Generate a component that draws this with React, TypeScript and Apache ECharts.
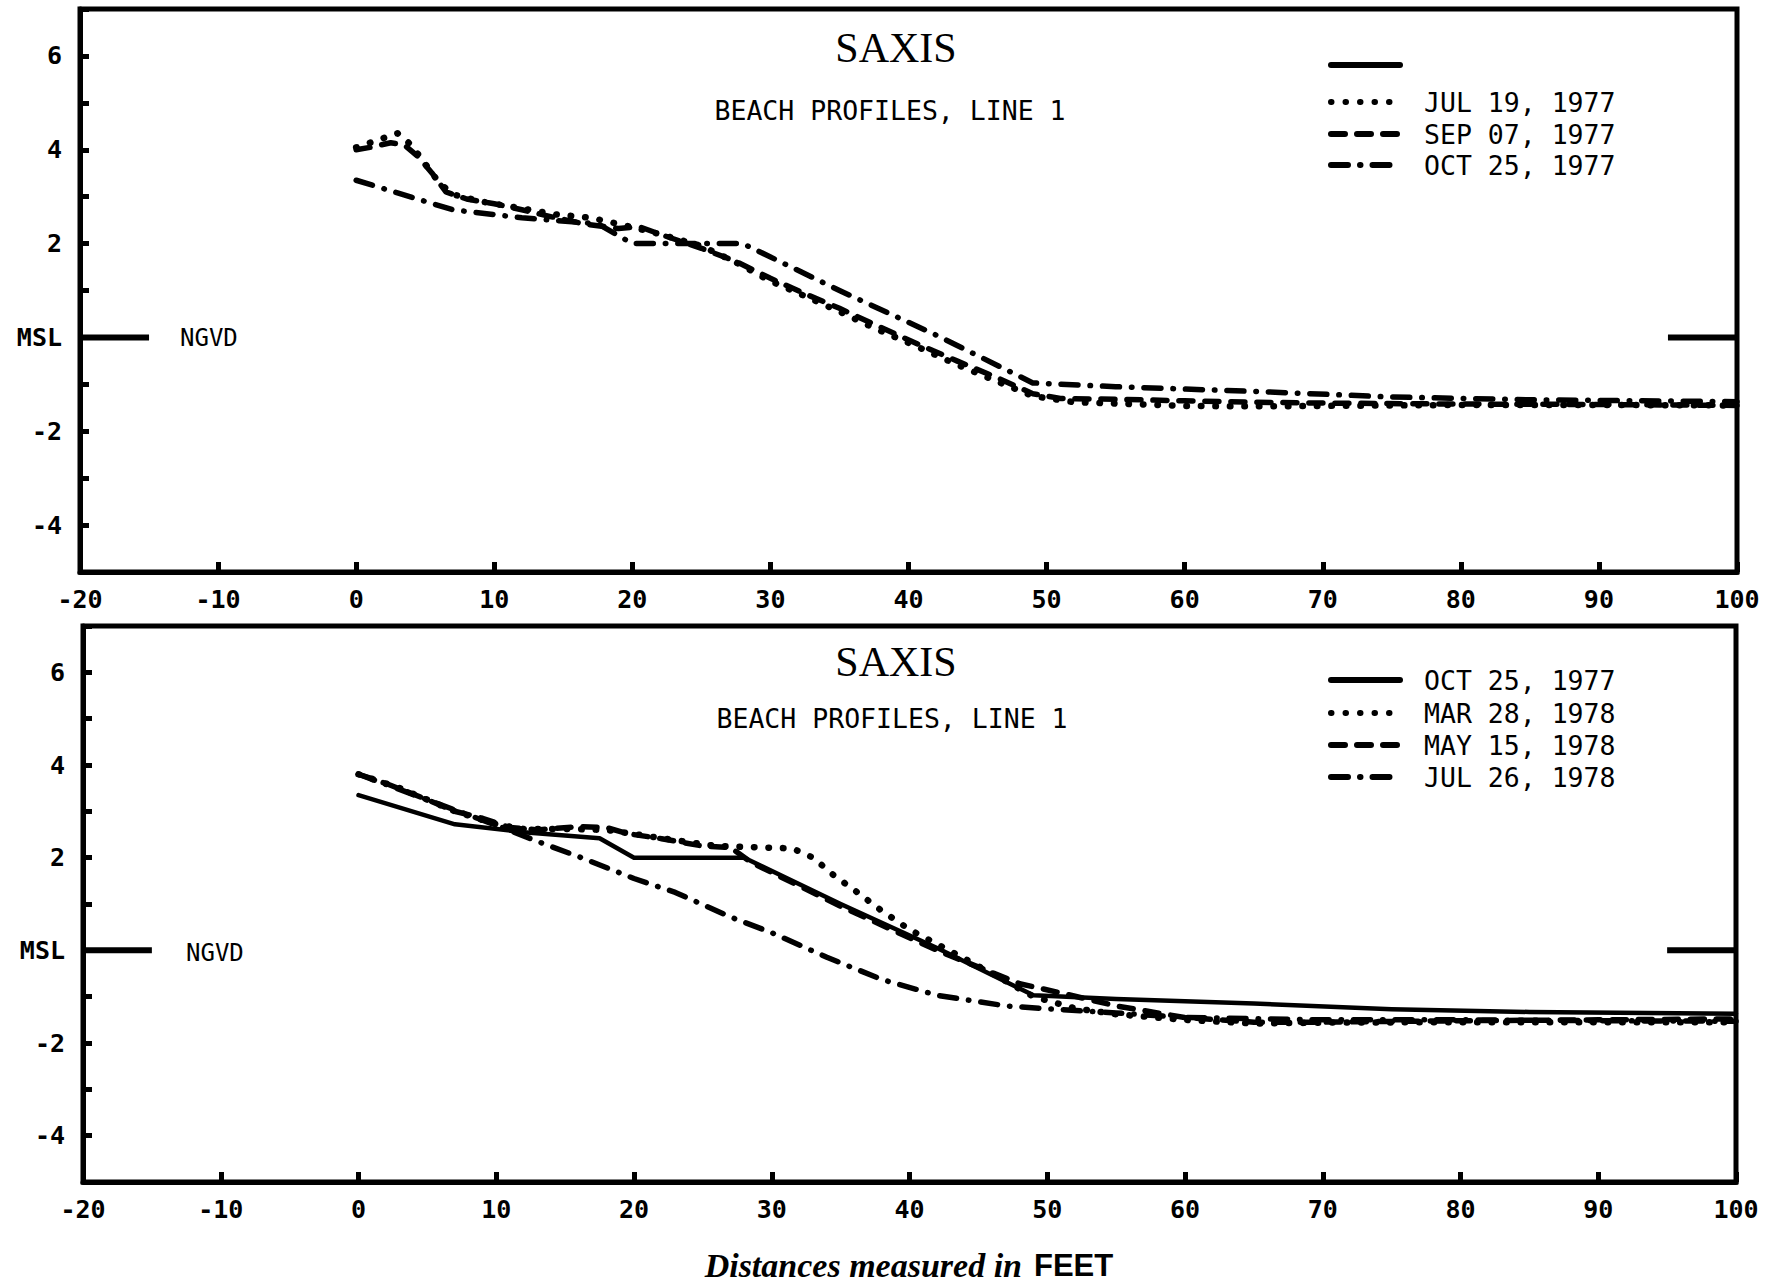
import React, { useEffect, useRef } from "react";
import * as echarts from "echarts";

// ---- Data (distance in feet, elevation in feet relative to MSL/NGVD) ----
const X_MIN = -20;
const X_MAX = 100;
const Y_MIN = -5;
const Y_MAX = 7;

const JUL19_1977: [number, number][] = [
  [0, 4.05], [1, 4.15], [3, 4.35], [4, 4.1], [5, 3.7], [6, 3.3], [7, 3.05], [9, 2.9],
  [12, 2.75], [14.5, 2.62], [17, 2.55], [18.5, 2.45], [20, 2.35], [22, 2.2], [25, 1.95],
  [27.5, 1.6], [30, 1.2], [32.5, 0.88], [35, 0.55], [37.5, 0.2], [40.5, -0.18],
  [43.5, -0.58], [46.5, -0.95], [49, -1.25], [52, -1.38], [56, -1.42], [60, -1.46],
  [65, -1.47], [70, -1.46], [80, -1.44], [90, -1.44], [100, -1.45],
];

const SEP07_1977: [number, number][] = [
  [0, 4.0], [1, 4.05], [2.5, 4.15], [3.5, 4.1], [4.5, 3.85], [5.5, 3.5], [6.5, 3.1],
  [8, 2.95], [10, 2.85], [12, 2.72], [14, 2.58], [16.5, 2.42], [19, 2.32], [20.5, 2.36],
  [22, 2.2], [25, 1.9], [27.5, 1.62], [30, 1.26], [32.5, 0.93], [35, 0.62], [37.5, 0.28],
  [40.5, -0.12], [43.5, -0.5], [46.5, -0.87], [49, -1.2], [51, -1.3], [55, -1.32],
  [60, -1.35], [65, -1.38], [70, -1.4], [80, -1.42], [90, -1.43], [100, -1.45],
];

const OCT25_1977: [number, number][] = [
  [0, 3.35], [7, 2.72], [12, 2.55], [17.5, 2.42], [20, 2.0], [28, 2.0], [35, 1.0],
  [42, 0.05], [49, -0.97], [55, -1.05], [65, -1.15], [75, -1.27], [85, -1.33], [100, -1.37],
];

const MAR28_1978: [number, number][] = [
  [0, 3.8], [3, 3.5], [7, 3.0], [10, 2.72], [12, 2.62], [15, 2.62], [18, 2.6], [22, 2.42],
  [26, 2.25], [31.5, 2.2], [33, 2.0], [34.5, 1.62], [36, 1.3], [38, 0.85], [40, 0.45],
  [43, -0.02], [46, -0.5], [49, -1.0], [52, -1.25], [55, -1.38], [60, -1.5], [65, -1.58],
  [70, -1.56], [80, -1.55], [90, -1.55], [100, -1.55],
];

const MAY15_1978: [number, number][] = [
  [0, 3.8], [2, 3.6], [5, 3.25], [7, 3.0], [9, 2.85], [11, 2.65], [13, 2.6], [16, 2.67],
  [18, 2.65], [19.5, 2.52], [22, 2.41], [25, 2.25], [27, 2.22], [28.5, 1.9], [35, 0.95],
  [42, 0.0], [48, -0.72], [51, -0.92], [55, -1.2], [60, -1.45], [65, -1.55], [70, -1.55],
  [80, -1.52], [90, -1.5], [100, -1.48],
];

const JUL26_1978: [number, number][] = [
  [0, 3.8], [5, 3.25], [10, 2.7], [13, 2.35], [16, 2.02], [20, 1.55], [23, 1.25],
  [27, 0.72], [30, 0.38], [34, -0.15], [38, -0.63], [42, -0.97], [47, -1.2], [50, -1.26],
  [55, -1.35], [60, -1.45], [70, -1.5], [80, -1.5], [90, -1.52], [100, -1.53],
];

// MSL / NGVD reference marks on both sides of each panel
const MSL_LEFT: [number, number][] = [[-20, 0], [-15, 0]];
const MSL_RIGHT: [number, number][] = [[95, 0], [100, 0]];

const TOP_LEGEND = ["", "JUL 19, 1977", "SEP 07, 1977", "OCT 25, 1977"];
const BOTTOM_LEGEND = ["OCT 25, 1977", "MAR 28, 1978", "MAY 15, 1978", "JUL 26, 1978"];
const TITLE = "SAXIS";
const SUBTITLE = "BEACH PROFILES, LINE 1";

// ---- Styles ----
const MONO = "'DejaVu Sans Mono', 'Liberation Mono', monospace";
const SERIF = "'Liberation Serif', 'DejaVu Serif', serif";
const DOTTED = [0.5, 14];
const DASHED = [14, 12];
const DASHDOT = [17, 12, 0.5, 12];
const LINE_W = 5.5;

const dashFor = (kind: string): any =>
  kind === "dotted" ? DOTTED : kind === "dashed" ? DASHED : kind === "dashdot" ? DASHDOT : "solid";

function xAxisDef(gridIndex: number) {
  return {
    type: "value",
    gridIndex,
    min: X_MIN,
    max: X_MAX,
    interval: 10,
    splitLine: { show: false },
    axisLine: { show: true, onZero: false, lineStyle: { color: "#000", width: 5 } },
    axisTick: { show: true, inside: true, length: 10, lineStyle: { color: "#000", width: 5 } },
    axisLabel: {
      color: "#000",
      fontFamily: MONO,
      fontWeight: "bold",
      fontSize: 25,
      margin: 15,
    },
  };
}

function yAxisDef(gridIndex: number) {
  return {
    type: "value",
    gridIndex,
    min: Y_MIN,
    max: Y_MAX,
    interval: 1,
    splitLine: { show: false },
    axisLine: { show: true, onZero: false, lineStyle: { color: "#000", width: 5 } },
    axisTick: { show: true, inside: true, length: 9, lineStyle: { color: "#000", width: 5 } },
    axisLabel: {
      color: "#000",
      fontFamily: MONO,
      fontWeight: "bold",
      fontSize: 25,
      margin: 18,
      formatter: (v: number) => {
        const r = Math.round(v);
        if (r === 0) return "MSL";
        if (r % 2 === 0) return String(r);
        return "";
      },
    },
  };
}

function lineSeries(name: string, data: [number, number][], kind: string, idx: number, width = LINE_W) {
  return {
    type: "line",
    name,
    xAxisIndex: idx,
    yAxisIndex: idx,
    data,
    smooth: false,
    showSymbol: false,
    symbol: "none",
    lineStyle: { color: "#000", width, type: dashFor(kind), cap: "round", join: "round" },
    z: 3,
  };
}

function mslSeries(data: [number, number][], idx: number) {
  return {
    type: "line",
    name: "MSL",
    xAxisIndex: idx,
    yAxisIndex: idx,
    data,
    symbol: "none",
    clip: false,
    lineStyle: { color: "#000", width: 6, type: "solid" },
    z: 4,
  };
}

function text(x: number, y: number, t: string, font: string, align = "left") {
  return {
    type: "text",
    x,
    y,
    style: {
      text: t,
      font,
      fill: "#000",
      align,
      textAlign: align,
      verticalAlign: "middle",
      textVerticalAlign: "middle",
    },
    z: 10,
  };
}

function legendLine(y: number, kind: string) {
  const dash = kind === "solid" ? null : dashFor(kind);
  return {
    type: "line",
    shape: { x1: 1331, y1: y, x2: 1400, y2: y },
    style: {
      stroke: "#000",
      lineWidth: 6,
      lineDash: dash,
      lineCap: "round",
    },
    z: 10,
  };
}

export default function App() {
  const ref = useRef<HTMLDivElement>(null);

  useEffect(() => {
    if (!ref.current) return;
    const chart = echarts.init(ref.current, undefined, { renderer: "svg" });

    const topKinds = ["solid", "dotted", "dashed", "dashdot"];
    const bottomKinds = ["solid", "dotted", "dashed", "dashdot"];
    const topRows = [65, 102, 134, 165];
    const bottomRows = [680, 713, 745, 777];

    const graphics: any[] = [];
    // titles
    graphics.push(text(896, 48, TITLE, `42px ${SERIF}`, "center"));
    graphics.push(text(890, 110, SUBTITLE, `26.5px ${MONO}`, "center"));
    graphics.push(text(896, 662, TITLE, `42px ${SERIF}`, "center"));
    graphics.push(text(892, 718, SUBTITLE, `26.5px ${MONO}`, "center"));
    // NGVD labels
    graphics.push(text(180, 338, "NGVD", `24px ${MONO}`, "left"));
    graphics.push(text(186, 953, "NGVD", `24px ${MONO}`, "left"));
    // legends
    topRows.forEach((y, i) => {
      graphics.push(legendLine(y, topKinds[i]));
      if (TOP_LEGEND[i]) graphics.push(text(1424, y, TOP_LEGEND[i], `26.5px ${MONO}`, "left"));
    });
    bottomRows.forEach((y, i) => {
      graphics.push(legendLine(y, bottomKinds[i]));
      graphics.push(text(1424, y, BOTTOM_LEGEND[i], `26.5px ${MONO}`, "left"));
    });
    // axis caption
    graphics.push(text(1022, 1265, "Distances measured in", `italic bold 34px ${SERIF}`, "right"));
    graphics.push(text(1034, 1265, "FEET", `bold 31px 'Liberation Sans', sans-serif`, "left"));

    const option: any = {
      animation: false,
      backgroundColor: "#fff",
      grid: [
        { left: 80, top: 9, width: 1657, height: 563, show: true, borderColor: "#000", borderWidth: 5, backgroundColor: "transparent", containLabel: false },
        { left: 83, top: 626, width: 1653, height: 556, show: true, borderColor: "#000", borderWidth: 5, backgroundColor: "transparent", containLabel: false },
      ],
      xAxis: [xAxisDef(0), xAxisDef(1)],
      yAxis: [yAxisDef(0), yAxisDef(1)],
      series: [
        lineSeries("JUL 19, 1977", JUL19_1977, "dotted", 0, 6.5),
        lineSeries("SEP 07, 1977", SEP07_1977, "dashed", 0),
        lineSeries("OCT 25, 1977", OCT25_1977, "dashdot", 0),
        mslSeries(MSL_LEFT, 0),
        mslSeries(MSL_RIGHT, 0),
        lineSeries("OCT 25, 1977", OCT25_1977, "solid", 1, 4.5),
        lineSeries("MAR 28, 1978", MAR28_1978, "dotted", 1, 6.5),
        lineSeries("MAY 15, 1978", MAY15_1978, "dashed", 1),
        lineSeries("JUL 26, 1978", JUL26_1978, "dashdot", 1),
        mslSeries(MSL_LEFT, 1),
        mslSeries(MSL_RIGHT, 1),
      ],
      graphic: graphics,
    };

    chart.setOption(option);
    return () => chart.dispose();
  }, []);

  return (
    <div
      ref={ref}
      style={{ position: "fixed", left: 0, top: 0, width: 1778, height: 1287, background: "#fff" }}
    />
  );
}
